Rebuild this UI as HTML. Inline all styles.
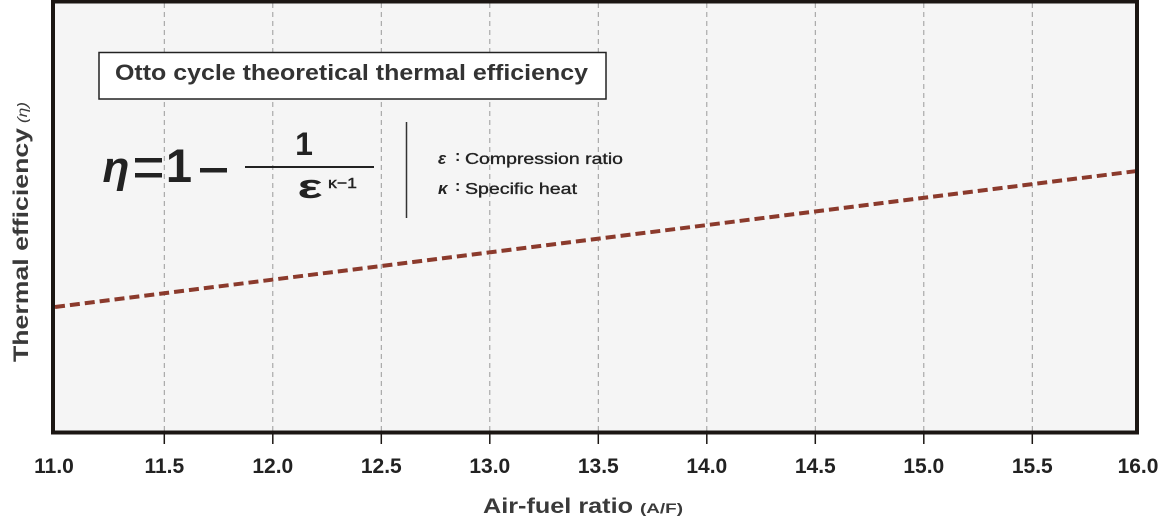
<!DOCTYPE html>
<html>
<head>
<meta charset="utf-8">
<style>
  html, body { margin:0; padding:0; background:#ffffff; }
  svg { display:block; }
  text { font-family: "Liberation Sans", "DejaVu Sans", sans-serif; }
</style>
</head>
<body>
<svg width="1168" height="518" viewBox="0 0 1168 518" xmlns="http://www.w3.org/2000/svg">
  <!-- plot background -->
  <rect x="53" y="1.5" width="1084" height="431" fill="#f5f5f5"/>

  <!-- vertical dashed gridlines -->
  <g stroke="#9a9a9a" stroke-width="1" stroke-dasharray="5,4">
    <line x1="164.3" y1="3" x2="164.3" y2="431"/>
    <line x1="272.8" y1="3" x2="272.8" y2="431"/>
    <line x1="381.3" y1="3" x2="381.3" y2="431"/>
    <line x1="489.8" y1="3" x2="489.8" y2="431"/>
    <line x1="598.3" y1="3" x2="598.3" y2="431"/>
    <line x1="706.8" y1="3" x2="706.8" y2="431"/>
    <line x1="815.3" y1="3" x2="815.3" y2="431"/>
    <line x1="923.8" y1="3" x2="923.8" y2="431"/>
    <line x1="1032.3" y1="3" x2="1032.3" y2="431"/>
  </g>

  <!-- data line -->
  <line x1="55" y1="307" x2="1137" y2="171" stroke="#8b3a2c" stroke-width="4" stroke-dasharray="10,5"/>

  <!-- frame -->
  <rect x="53" y="1.5" width="1084" height="431" fill="none" stroke="#1b1613" stroke-width="4"/>

  <!-- ticks -->
  <g stroke="#1b1613" stroke-width="1.5">
    <line x1="164.3" y1="434" x2="164.3" y2="444"/>
    <line x1="272.8" y1="434" x2="272.8" y2="444"/>
    <line x1="381.3" y1="434" x2="381.3" y2="444"/>
    <line x1="489.8" y1="434" x2="489.8" y2="444"/>
    <line x1="598.3" y1="434" x2="598.3" y2="444"/>
    <line x1="706.8" y1="434" x2="706.8" y2="444"/>
    <line x1="815.3" y1="434" x2="815.3" y2="444"/>
    <line x1="923.8" y1="434" x2="923.8" y2="444"/>
    <line x1="1032.3" y1="434" x2="1032.3" y2="444"/>
  </g>

  <!-- tick labels -->
  <g font-size="21" font-weight="bold" fill="#222" text-anchor="middle">
    <text x="54" y="473">11.0</text>
    <text x="164.3" y="473">11.5</text>
    <text x="272.8" y="473">12.0</text>
    <text x="381.3" y="473">12.5</text>
    <text x="489.8" y="473">13.0</text>
    <text x="598.3" y="473">13.5</text>
    <text x="706.8" y="473">14.0</text>
    <text x="815.3" y="473">14.5</text>
    <text x="923.8" y="473">15.0</text>
    <text x="1032.3" y="473">15.5</text>
    <text x="1138" y="473">16.0</text>
  </g>

  <!-- x axis title -->
  <text x="483" y="513" font-size="21" font-weight="bold" fill="#3a3a3a" textLength="150" lengthAdjust="spacingAndGlyphs">Air-fuel ratio</text>
  <text x="640" y="513" font-size="14" font-weight="bold" fill="#3a3a3a" textLength="43" lengthAdjust="spacingAndGlyphs">(A/F)</text>

  <!-- y axis title -->
  <g transform="translate(28,362) rotate(-90)">
    <text x="0" y="0" font-size="21" font-weight="bold" fill="#3a3a3a" textLength="234" lengthAdjust="spacingAndGlyphs">Thermal efficiency</text>
    <text x="239" y="-1" font-size="14" font-style="italic" fill="#3a3a3a" textLength="21" lengthAdjust="spacingAndGlyphs">(η)</text>
  </g>

  <!-- title box -->
  <rect x="99" y="52.5" width="507" height="46.5" fill="#ffffff" stroke="#222" stroke-width="1.5"/>
  <text x="115" y="80" font-size="22" font-weight="bold" fill="#333" textLength="473" lengthAdjust="spacingAndGlyphs">Otto cycle theoretical thermal efficiency</text>

  <!-- formula -->
  <text x="116" y="182" font-size="44" font-weight="bold" font-style="italic" fill="#222" text-anchor="middle">η</text>
  <rect x="135" y="158" width="27" height="4.5" fill="#222"/>
  <rect x="135" y="173" width="27" height="4.5" fill="#222"/>
  <text x="179" y="182" font-size="47" font-weight="bold" fill="#222" text-anchor="middle">1</text>
  <rect x="200" y="168" width="27" height="4.5" fill="#222"/>
  <rect x="245" y="166" width="129" height="2" fill="#222"/>
  <text x="304" y="155" font-size="32" font-weight="bold" fill="#222" text-anchor="middle">1</text>
  <text x="310" y="198" font-size="34" font-weight="bold" fill="#222" text-anchor="middle" textLength="25" lengthAdjust="spacingAndGlyphs">ε</text>
  <text x="328" y="188" font-size="15" fill="#222" stroke="#222" stroke-width="0.4" textLength="29" lengthAdjust="spacingAndGlyphs">κ−1</text>

  <!-- legend -->
  <line x1="406.5" y1="122" x2="406.5" y2="218" stroke="#333" stroke-width="1.5"/>
  <text x="438" y="164" font-size="17" font-weight="bold" font-style="italic" fill="#222">ε</text>
  <text x="455" y="161" font-size="16" font-weight="bold" fill="#222">:</text>
  <text x="465" y="164" font-size="16" fill="#222" stroke="#222" stroke-width="0.35" textLength="158" lengthAdjust="spacingAndGlyphs">Compression ratio</text>
  <text x="438" y="194" font-size="17" font-weight="bold" font-style="italic" fill="#222">κ</text>
  <text x="455" y="191" font-size="16" font-weight="bold" fill="#222">:</text>
  <text x="465" y="194" font-size="16" fill="#222" stroke="#222" stroke-width="0.35" textLength="112" lengthAdjust="spacingAndGlyphs">Specific heat</text>
</svg>
</body>
</html>
